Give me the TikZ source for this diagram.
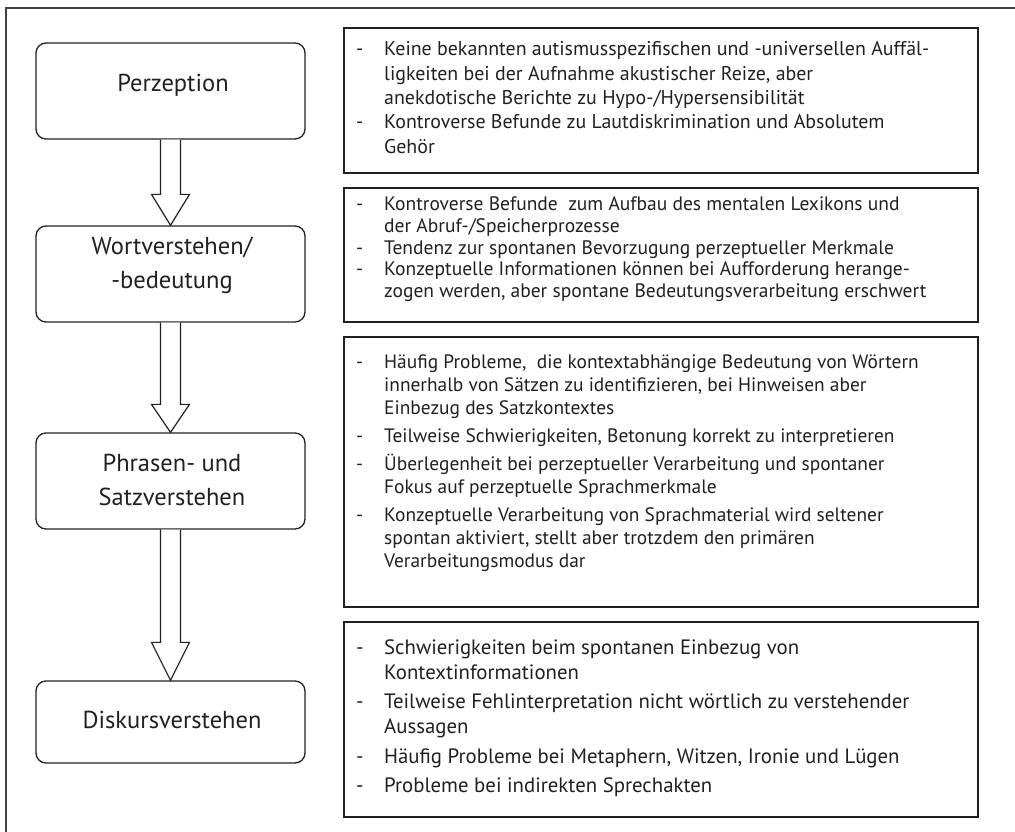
\documentclass[tikz,border=0pt]{standalone}
\usepackage{fontspec}
\setmainfont{PT Sans}
\usetikzlibrary{calc}
\definecolor{ink}{HTML}{231F20}
\begin{document}
\begin{tikzpicture}[x=1pt,y=-1pt,
  stage/.style={draw=ink, line width=1.3pt, rounded corners=10pt, minimum width=269pt, inner sep=0pt},
  stagelabel/.style={text=ink, align=center, font=\fontsize{24.5}{34}\selectfont, inner sep=0pt},
  infobox/.style={draw=ink, line width=1.6pt, minimum width=634pt, inner sep=0pt},
  infotext/.style={text=ink, anchor=base west, inner sep=0pt},
  blockarrow/.style={draw=ink, line width=1.2pt, fill=white, line join=miter}
]
\useasboundingbox (0,0) rectangle (1015,832);
% outer frame (only top and left edges visible)
\draw[ink!85, line width=1.4pt] (6,840) -- (6,8) -- (1025,8);

% stage boxes
\node[stage, minimum height=96pt] (s1) at (170.5,91) {};
\node[stage, minimum height=96pt] (s2) at (170.5,274) {};
\node[stage, minimum height=96pt] (s3) at (170.5,481) {};
\node[stage, minimum height=82pt] (s4) at (170.5,722) {};

\node[stagelabel] (l1) at (173,85) {Perzeption};
\node[stagelabel] (l2) at (172,265) {Wortverstehen/\\-bedeutung};
\node[stagelabel] (l3) at (172,480) {Phrasen- und\\Satzverstehen};
\node[stagelabel] (l4) at (172,720) {Diskursverstehen};

% block arrows
\draw[blockarrow] ($(s1.south)+(-10,0)$) -- ($(s2.north)+(-10,-31)$) -- ($(s2.north)+(-19,-31)$) -- (s2.north)
   -- ($(s2.north)+(19,-31)$) -- ($(s2.north)+(10,-31)$) -- ($(s1.south)+(10,0)$);
\draw[blockarrow] ($(s2.south)+(-10,0)$) -- ($(s3.north)+(-10,-28)$) -- ($(s3.north)+(-19,-28)$) -- (s3.north)
   -- ($(s3.north)+(19,-28)$) -- ($(s3.north)+(10,-28)$) -- ($(s2.south)+(10,0)$);
\draw[blockarrow] ($(s3.south)+(-10,0)$) -- ($(s4.north)+(-10,-38)$) -- ($(s4.north)+(-19,-38)$) -- (s4.north)
   -- ($(s4.north)+(19,-38)$) -- ($(s4.north)+(10,-38)$) -- ($(s3.south)+(10,0)$);

% info boxes
\node[infobox, minimum height=145pt] (r1) at (661,100.5) {};
\node[infobox, minimum height=134pt] (r2) at (661,255) {};
\node[infobox, minimum height=270pt] (r3) at (661,472) {};
\node[infobox, minimum height=195pt] (r4) at (661,719.5) {};

\node[infotext, font=\fontsize{19.9}{24.3}\selectfont] (t1) at (356,56) {%
\begin{tabular}[t]{@{}p{28pt}@{}l@{}}
- & Keine bekannten autismusspezifischen und -universellen Auffäl-\\
  & ligkeiten bei der Aufnahme akustischer Reize, aber\\
  & anekdotische Berichte zu Hypo-/Hypersensibilität\\
- & Kontroverse Befunde zu Lautdiskrimination und Absolutem\\
  & Gehör
\end{tabular}};

\node[infotext, font=\fontsize{19.5}{22}\selectfont] (t2) at (356,210) {%
\begin{tabular}[t]{@{}p{28pt}@{}l@{}}
- & Kontroverse Befunde\ \ zum Aufbau des mentalen Lexikons und\\
  & der Abruf-/Speicherprozesse\\
- & Tendenz zur spontanen Bevorzugung perzeptueller Merkmale\\
- & Konzeptuelle Informationen können bei Aufforderung herange-\\
  & zogen werden, aber spontane Bedeutungsverarbeitung erschwert
\end{tabular}};

\node[infotext, font=\fontsize{19.4}{23}\selectfont] (t3) at (356,368) {%
\begin{tabular}[t]{@{}p{28pt}@{}l@{}}
- & Häufig Probleme,\ \ die kontextabhängige Bedeutung von Wörtern\\
  & innerhalb von Sätzen zu identifizieren, bei Hinweisen aber\\
  & Einbezug des Satzkontextes\\[5pt]
- & Teilweise Schwierigkeiten, Betonung korrekt zu interpretieren\\[5pt]
- & Überlegenheit bei perzeptueller Verarbeitung und spontaner\\
  & Fokus auf perzeptuelle Sprachmerkmale\\[5pt]
- & Konzeptuelle Verarbeitung von Sprachmaterial wird seltener\\
  & spontan aktiviert, stellt aber trotzdem den primären\\
  & Verarbeitungsmodus dar
\end{tabular}};

\node[infotext, font=\fontsize{20.8}{25}\selectfont] (t4) at (356,654) {%
\begin{tabular}[t]{@{}p{28pt}@{}l@{}}
- & Schwierigkeiten beim spontanen Einbezug von\\
  & Kontextinformationen\\[4.5pt]
- & Teilweise Fehlinterpretation nicht wörtlich zu verstehender\\
  & Aussagen\\[4.5pt]
- & Häufig Probleme bei Metaphern, Witzen, Ironie und Lügen\\[4.5pt]
- & Probleme bei indirekten Sprechakten
\end{tabular}};
\end{tikzpicture}
\end{document}
